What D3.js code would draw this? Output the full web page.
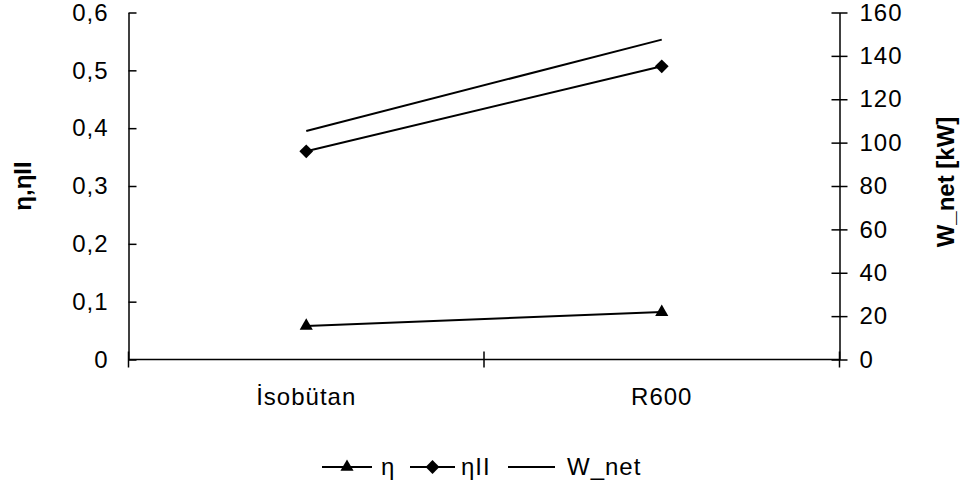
<!DOCTYPE html>
<html>
<head>
<meta charset="utf-8">
<script src="https://cdn.jsdelivr.net/npm/d3@7"></script>
<style>
  body { margin: 0; background: #fff; }
  text { font-family: "Liberation Sans", Arial, sans-serif; fill: #000; }
</style>
</head>
<body>
<div id="chart"></div>
<script>
// chart data
var categories = ["İsobütan", "R600"];
var eta = [0.058, 0.082];
var etaII = [0.36, 0.507];
var wNet = [105.4, 147.5];
var leftTicks = [0, 0.1, 0.2, 0.3, 0.4, 0.5, 0.6];
var rightTicks = [0, 20, 40, 60, 80, 100, 120, 140, 160];

var width = 963, height = 488;
var plot = {left: 128.5, right: 839.5, top: 12.5, bottom: 359.5};
var fontSize = "24px", spacing = "1px";

var svg = d3.select("#chart").append("svg")
    .attr("width", width)
    .attr("height", height);

var x = d3.scaleBand().domain(categories).range([plot.left, plot.right]);
var yL = d3.scaleLinear().domain([0, 0.6]).range([plot.bottom, plot.top]);
var yR = d3.scaleLinear().domain([0, 160]).range([plot.bottom, plot.top]);
var cx = function(d) { return x(d) + x.bandwidth() / 2; };

var fmt = function(d) { return d === 0 ? "0" : d3.format(".1f")(d).replace(".", ","); };

// left axis
var gl = svg.append("g")
    .attr("transform", "translate(" + plot.left + ",0)")
    .call(d3.axisLeft(yL).tickValues(leftTicks).tickFormat(fmt).tickSizeInner(8).tickSizeOuter(0).tickPadding(12));
gl.selectAll(".tick line").attr("x2", 8);

// right axis
var gr = svg.append("g")
    .attr("transform", "translate(" + plot.right + ",0)")
    .call(d3.axisRight(yR).tickValues(rightTicks).tickSizeInner(8).tickSizeOuter(0).tickPadding(12));
gr.selectAll(".tick line").attr("x2", -8).attr("x1", 8);

// x axis, ticks between categories
var gx = svg.append("g")
    .attr("transform", "translate(0," + plot.bottom + ")");
gx.append("line")
    .attr("x1", plot.left).attr("x2", plot.right)
    .attr("stroke", "#000").attr("stroke-width", 1.5);
var bounds = [plot.left, x("R600"), plot.right];
gx.selectAll(".xt").data(bounds).enter().append("line")
    .attr("x1", function(d) { return d; }).attr("x2", function(d) { return d; })
    .attr("y1", -8).attr("y2", 8)
    .attr("stroke", "#000").attr("stroke-width", 1.5);
gx.selectAll(".xl").data(categories).enter().append("text")
    .attr("x", cx).attr("y", 45)
    .attr("text-anchor", "middle")
    .style("font-size", fontSize).style("letter-spacing", spacing)
    .text(function(d) { return d; });

svg.selectAll(".domain, .tick line").attr("stroke", "#000").attr("stroke-width", 1.5);
svg.selectAll(".tick text").style("font-size", fontSize).style("letter-spacing", spacing);

// axis titles
svg.append("text")
    .attr("transform", "translate(31,186) rotate(-90)")
    .attr("text-anchor", "middle")
    .style("font-size", "24px").style("font-weight", "bold")
    .text("η,ηII");
svg.append("text")
    .attr("transform", "translate(954,182) rotate(-90)")
    .attr("text-anchor", "middle")
    .style("font-size", "24px").style("font-weight", "bold")
    .text("W_net [kW]");

// series
var lineL = d3.line().x(function(d, i) { return cx(categories[i]); }).y(function(d) { return yL(d); });
var lineR = d3.line().x(function(d, i) { return cx(categories[i]); }).y(function(d) { return yR(d); });

svg.append("path").attr("d", lineR(wNet)).attr("fill", "none").attr("stroke", "#000").attr("stroke-width", 2);
svg.append("path").attr("d", lineL(etaII)).attr("fill", "none").attr("stroke", "#000").attr("stroke-width", 2);
svg.append("path").attr("d", lineL(eta)).attr("fill", "none").attr("stroke", "#000").attr("stroke-width", 2);

var tri = d3.symbol().type(d3.symbolTriangle).size(75);
var dia = d3.symbol().type(d3.symbolSquare).size(95);

svg.selectAll(".tri").data(eta).enter().append("path")
    .attr("d", tri)
    .attr("transform", function(d, i) { return "translate(" + cx(categories[i]) + "," + yL(d) + ")"; });
svg.selectAll(".dia").data(etaII).enter().append("path")
    .attr("d", dia)
    .attr("transform", function(d, i) { return "translate(" + cx(categories[i]) + "," + yL(d) + ") rotate(45)"; });

// legend
var ly = 467;
var legend = [
    {label: "η", x1: 322, x2: 372, tx: 381, sym: "tri"},
    {label: "ηII", x1: 410, x2: 455, tx: 461, sym: "dia"},
    {label: "W_net", x1: 508, x2: 555, tx: 567, sym: null}
];
var lg = svg.append("g");
legend.forEach(function(l) {
    lg.append("line").attr("x1", l.x1).attr("x2", l.x2).attr("y1", ly).attr("y2", ly)
        .attr("stroke", "#000").attr("stroke-width", 2);
    if (l.sym === "tri") {
        lg.append("path").attr("d", tri).attr("transform", "translate(" + (l.x1 + l.x2) / 2 + "," + ly + ")");
    } else if (l.sym === "dia") {
        lg.append("path").attr("d", dia).attr("transform", "translate(" + (l.x1 + l.x2) / 2 + "," + ly + ") rotate(45)");
    }
    lg.append("text").attr("x", l.tx).attr("y", ly + 8)
        .style("font-size", fontSize).style("letter-spacing", spacing).text(l.label);
});
</script>
</body>
</html>
